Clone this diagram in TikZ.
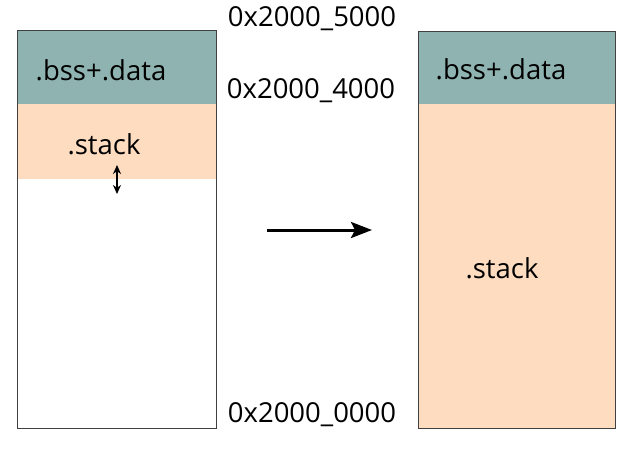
\documentclass[tikz,border=0pt]{standalone}
\usepackage{fontspec}
\setmainfont{Open Sans}
\usetikzlibrary{arrows.meta}
\definecolor{tealc}{HTML}{8FB3B0}
\definecolor{peach}{HTML}{FDDCC0}
\definecolor{edge}{HTML}{404040}
\begin{document}
\begin{tikzpicture}[x=1pt,y=-1pt,
  lbl/.style={font=\fontsize{27.5}{32}\selectfont, inner sep=0pt, anchor=center},
  frame/.style={draw=edge, line width=0.8pt}]
\useasboundingbox (0,0) rectangle (644,450);
% left column
\fill[tealc] (17,30) rectangle (216,104);
\fill[peach] (17,104) rectangle (216,179);
\draw[frame] (17,30) rectangle (216,428);
% right column
\fill[tealc] (418,31) rectangle (615,104);
\fill[peach] (418,104) rectangle (615,428);
\draw[frame] (418,31) rectangle (615,428);
% texts
\node[lbl] (bssL) at (101,70) {.bss+.data};
\node[lbl] (stackL) at (104,144) {.stack};
\node[lbl] (bssR) at (501,69) {.bss+.data};
\node[lbl] (stackR) at (502,268) {.stack};
\node[lbl] (a5) at (312,19) {0x2000\_5000};
\node[lbl] (a4) at (311,91) {0x2000\_4000};
\node[lbl] (a0) at (312,415) {0x2000\_0000};
% arrows
\coordinate (d1) at (117,165);
\coordinate (d2) at (117,194);
\draw[line width=2pt, {Stealth[length=9pt,width=8pt]}-{Stealth[length=9pt,width=8pt]}] (d1) -- (d2);
\coordinate (m1) at (267,230);
\coordinate (m2) at (372,230);
\draw[line width=3pt, -{Stealth[length=21pt,width=16pt,inset=4pt]}] (m1) -- (m2);
\end{tikzpicture}
\end{document}
